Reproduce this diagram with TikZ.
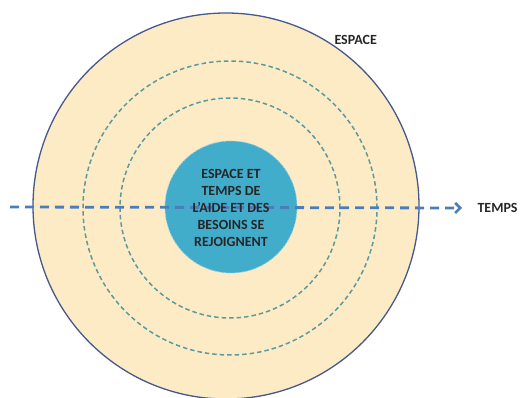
\documentclass[tikz,border=0pt]{standalone}
\usepackage{fontspec}
\setmainfont{Carlito}
\usepackage{xcolor}
\usetikzlibrary{arrows.meta,positioning}

\definecolor{creme}{HTML}{FDEBC6}
\definecolor{bordbleu}{HTML}{45598A}
\definecolor{tiret}{HTML}{5B9A9E}
\definecolor{coeur}{HTML}{42ACCB}
\definecolor{fleche}{HTML}{4A7EBB}

\tikzset{
  anneau/.style={draw=tiret, line width=1.5pt, dash pattern=on 4.5pt off 3pt},
  etiquette/.style={font=\bfseries\fontsize{14}{17}\selectfont, text=black!85},
}

\begin{document}
\begin{tikzpicture}[x=1pt,y=-1pt]
\useasboundingbox (0,0) rectangle (520,398);
%
\node[circle, fill=creme, draw=bordbleu, line width=1.3pt,
  minimum size=386pt, inner sep=0pt] (espace) at (226,206) {};
\node[circle, anneau, minimum size=294pt, inner sep=0pt] (anneau1) at (230,208) {};
\node[circle, anneau, minimum size=220pt, inner sep=0pt] (anneau2) at (230,208) {};
%
\node[circle, fill=coeur, draw=coeur!55!white, line width=0.8pt,
  dash pattern=on 2pt off 1.5pt, minimum size=132pt, inner sep=0pt] (coeur) at (231,207) {};
%
\node[etiquette, anchor=west] (temps) at (474,208) {TEMPS};
\node[etiquette, anchor=west] (lespace) at (331,40) {ESPACE};
%
\coordinate (debut) at (10,207);
\draw[fleche, line width=2.8pt, dash pattern=on 9pt off 6pt,
  -{Straight Barb[length=5pt,width=10pt,line width=2.5pt]}]
  (debut) -- (temps.west -| 462,0) ;
%
\node[etiquette, align=center] (jonction) at (231,208)
  {ESPACE ET\\TEMPS DE\\L’AIDE ET DES\\BESOINS SE\\REJOIGNENT};
\end{tikzpicture}
\end{document}
